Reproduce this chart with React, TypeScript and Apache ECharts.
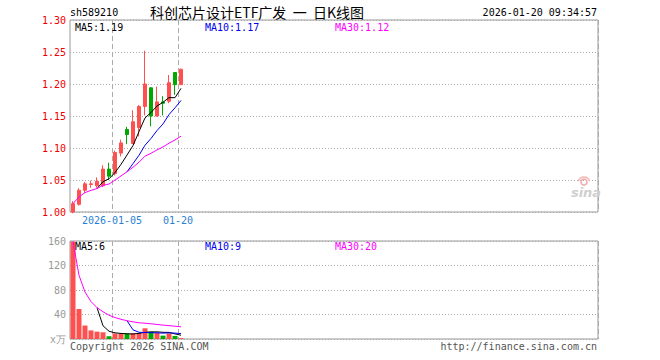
import React, { useEffect, useRef } from 'react';
import * as echarts from 'echarts';

// ---- data ----
const dates = [
  '2025-12-23', '2025-12-24', '2025-12-25', '2025-12-26', '2025-12-29', '2025-12-30', '2025-12-31',
  '2026-01-05', '2026-01-06', '2026-01-07', '2026-01-08', '2026-01-09', '2026-01-12', '2026-01-13',
  '2026-01-14', '2026-01-15', '2026-01-16', '2026-01-19', '2026-01-20',
];
const opens = [1.000, 1.012, 1.034, 1.043, 1.041, 1.041, 1.067, 1.060, 1.092, 1.129, 1.107, 1.132, 1.165, 1.194, 1.150, 1.172, 1.173, 1.218, 1.199];
const closes = [1.013, 1.034, 1.044, 1.044, 1.048, 1.067, 1.056, 1.093, 1.108, 1.121, 1.141, 1.165, 1.200, 1.150, 1.172, 1.170, 1.202, 1.199, 1.223];
const lows = [0.998, 1.010, 1.030, 1.038, 1.038, 1.039, 1.050, 1.057, 1.087, 1.106, 1.106, 1.118, 1.151, 1.134, 1.149, 1.151, 1.170, 1.183, 1.199];
const highs = [1.017, 1.037, 1.047, 1.049, 1.054, 1.073, 1.077, 1.096, 1.113, 1.133, 1.159, 1.167, 1.252, 1.195, 1.196, 1.181, 1.214, 1.218, 1.224];
const volumes = [159, 49, 22, 14, 12, 11, 4.5, 9, 9, 9, 9.5, 9.5, 17.5, 12, 10, 5.5, 9, 5, 1.5];

const tickDates = ['2026-01-05', '2026-01-20'];
const tickLabels = ['2026-01-05', '01-20'];
const priceTicks = { min: 1.0, max: 1.3, interval: 0.05 };
const volumeTicks = { min: 0, max: 160, interval: 40 };
const volumeUnit = 'x万';
const totalSlots = 88;

const code = 'sh589210';
const titleText = '科创芯片设计ETF广发  一  日K线图';
const timeText = '2026-01-20 09:34:57';
const copyrightText = 'Copyright 2026 SINA.COM';
const urlText = 'http://finance.sina.com.cn';

// ---- helpers ----
const movingAvg = (arr: number[], n: number) =>
  arr.map((_, i) => {
    if (n < 30 && i < n - 1) return '-';
    const s = Math.max(0, i - n + 1);
    const part = arr.slice(s, i + 1);
    return part.reduce((a, b) => a + b, 0) / part.length;
  });

const RED = '#ff5050';
const GREEN = '#00a800';
const MONO = '"DejaVu Sans Mono", "Liberation Mono", monospace';

export default function App() {
  const ref = useRef<HTMLDivElement>(null);
  useEffect(() => {
    if (!ref.current) return;
    const chart = echarts.init(ref.current, undefined, { renderer: 'svg' });

    const slots = Array.from({ length: totalSlots }, (_, i) => (i < dates.length ? dates[i] : 'x' + i));
    const tickIdx = tickDates.map((d) => dates.indexOf(d));

    const pMA5 = movingAvg(closes, 5);
    const pMA10 = movingAvg(closes, 10);
    const pMA30 = movingAvg(closes, 30);
    const vMA5 = movingAvg(volumes, 5);
    const vMA10 = movingAvg(volumes, 10);
    const vMA30 = movingAvg(volumes, 30);
    const last = (a: any[]) => a[a.length - 1] as number;

    const candle = dates.map((_, i) => [opens[i], closes[i], lows[i], highs[i]]);
    const volBars = volumes.map((v, i) => ({
      value: v,
      itemStyle: { color: closes[i] >= opens[i] ? RED : GREEN },
    }));

    const splitX = {
      show: true,
      interval: (i: number) => tickIdx.includes(i),
      lineStyle: { color: '#aaa', type: [5, 3] as any, width: 1 },
    };

    const txt = (x: number, y: number, text: string, fill: string, align = 'left', font = `10px ${MONO}`) => ({
      type: 'text',
      x,
      y,
      silent: true,
      style: { text, fill, font, textAlign: align, textVerticalAlign: 'middle' },
      z: 100,
    });

    chart.setOption({
      animation: false,
      backgroundColor: '#fff',
      grid: [
        { left: 70, top: 20, width: 528, height: 192, show: true, borderColor: '#999', borderWidth: 1 },
        { left: 70, top: 241, width: 528, height: 98, show: true, borderColor: '#999', borderWidth: 1 },
      ],
      xAxis: [
        {
          type: 'category', gridIndex: 0, data: slots, boundaryGap: true,
          axisLine: { show: false }, axisTick: { show: false }, axisLabel: { show: false },
          splitLine: splitX,
        },
        {
          type: 'category', gridIndex: 1, data: slots, boundaryGap: true,
          axisLine: { show: false }, axisTick: { show: false }, axisLabel: { show: false },
          splitLine: splitX,
        },
        {
          type: 'value', gridIndex: 0, min: 0, max: totalSlots, position: 'bottom',
          axisLine: { show: false }, axisTick: { show: false }, splitLine: { show: false },
          axisLabel: {
            customValues: tickIdx,
            formatter: (v: number) => tickLabels[tickIdx.indexOf(Math.round(v))] ?? '',
            color: '#2a7fd4', fontFamily: MONO, fontSize: 10, margin: 3,
          },
        },
      ],
      yAxis: [
        {
          type: 'value', gridIndex: 0, ...priceTicks,
          axisLine: { show: false }, axisTick: { show: false },
          axisLabel: { color: '#ee0000', fontFamily: MONO, fontSize: 10, margin: 4, formatter: (v: number) => v.toFixed(2) },
          splitLine: { lineStyle: { color: '#aaa', type: [1, 2] as any } },
        },
        {
          type: 'value', gridIndex: 1, ...volumeTicks,
          axisLine: { show: false }, axisTick: { show: false },
          axisLabel: {
            color: '#999', fontFamily: MONO, fontSize: 10, margin: 4,
            formatter: (v: number) => (v === 0 ? volumeUnit : String(v)),
          },
          splitLine: { lineStyle: { color: '#aaa', type: [1, 2] as any } },
        },
      ],
      series: [
        {
          type: 'candlestick', xAxisIndex: 0, yAxisIndex: 0, data: candle, barWidth: 4,
          itemStyle: { color: RED, color0: GREEN, borderColor: RED, borderColor0: GREEN, borderWidth: 1 },
        },
        { type: 'line', xAxisIndex: 0, yAxisIndex: 0, data: pMA5, symbol: 'none', lineStyle: { color: '#000', width: 1 }, z: 5 },
        { type: 'line', xAxisIndex: 0, yAxisIndex: 0, data: pMA10, symbol: 'none', lineStyle: { color: '#0000ee', width: 1 }, z: 5 },
        { type: 'line', xAxisIndex: 0, yAxisIndex: 0, data: pMA30, symbol: 'none', lineStyle: { color: '#ff00ff', width: 1 }, z: 5 },
        { type: 'bar', xAxisIndex: 1, yAxisIndex: 1, data: volBars, barWidth: 5 },
        { type: 'line', xAxisIndex: 1, yAxisIndex: 1, data: vMA5, symbol: 'none', lineStyle: { color: '#000', width: 1 }, z: 5 },
        { type: 'line', xAxisIndex: 1, yAxisIndex: 1, data: vMA10, symbol: 'none', lineStyle: { color: '#0000ee', width: 1 }, z: 5 },
        { type: 'line', xAxisIndex: 1, yAxisIndex: 1, data: vMA30, symbol: 'none', lineStyle: { color: '#ff00ff', width: 1 }, z: 5 },
      ],
      graphic: [
        txt(70, 12, code, '#000'),
        txt(150, 12, titleText, '#000', 'left', '14px "Noto Sans CJK SC"'),
        txt(597, 12, timeText, '#000', 'right'),
        txt(75, 27, 'MA5:' + last(pMA5).toFixed(2), '#000'),
        txt(205, 27, 'MA10:' + last(pMA10).toFixed(2), '#0000ee'),
        txt(335, 27, 'MA30:' + last(pMA30).toFixed(2), '#ff00ff'),
        txt(75, 246, 'MA5:' + Math.round(last(vMA5)), '#000'),
        txt(205, 246, 'MA10:' + Math.round(last(vMA10)), '#0000ee'),
        txt(335, 246, 'MA30:' + Math.round(last(vMA30)), '#ff00ff'),
        txt(70, 346, copyrightText, '#555'),
        txt(597, 346, urlText, '#555', 'right'),
        {
          type: 'circle', silent: true, z: 1,
          shape: { cx: 584, cy: 182, r: 3 },
          style: { fill: 'none', stroke: '#f2a8a8', lineWidth: 1.5 },
        },
        {
          type: 'arc', silent: true, z: 1,
          shape: { cx: 584, cy: 183, r: 6, startAngle: Math.PI * 1.1, endAngle: Math.PI * 1.9 },
          style: { stroke: '#f2b8b8', lineWidth: 1.5, fill: 'none' },
        },
        {
          type: 'text', x: 586, y: 192, silent: true, z: 1,
          style: {
            text: 'sina', fill: '#cfcfcf', font: 'italic bold 13px "DejaVu Sans"',
            textAlign: 'center', textVerticalAlign: 'middle',
          },
        },
      ],
    });
    return () => chart.dispose();
  }, []);
  return <div ref={ref} style={{ position: 'fixed', left: 0, top: 0, width: 660, height: 360, background: '#fff' }} />;
}
